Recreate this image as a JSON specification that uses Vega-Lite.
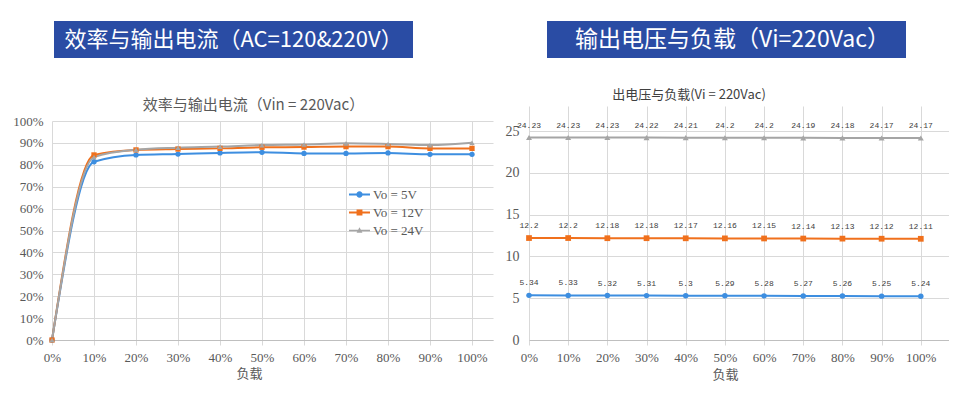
{
  "$schema": "https://vega.github.io/schema/vega-lite/v6.json",
  "background": "white",
  "padding": {"left": 12, "top": 21, "right": 0, "bottom": 0},
  "config": {
    "view": {"stroke": null},
    "font": "Noto Sans CJK SC",
    "axis": {
      "labelFont": "Liberation Serif",
      "labelFontSize": 13,
      "labelColor": "#595959",
      "labelFlush": false,
      "titleFont": "Noto Sans CJK SC",
      "titleFontSize": 13,
      "titleFontWeight": "normal",
      "titleColor": "#595959",
      "gridColor": "#d9d9d9",
      "gridWidth": 1,
      "tickColor": "#d9d9d9",
      "domainColor": "#bfbfbf"
    }
  },
  "datasets": {
    "spacer": [{"k": 1}],
    "bannerL": [{"t": "效率与输出电流（AC=120&220V）"}],
    "bannerR": [{"t": "输出电压与负载（Vi=220Vac）"}],
    "eff": [
      {"load": 0, "s": "Vo = 5V", "e": 0},
      {"load": 0.1, "s": "Vo = 5V", "e": 0.814},
      {"load": 0.2, "s": "Vo = 5V", "e": 0.845},
      {"load": 0.3, "s": "Vo = 5V", "e": 0.849},
      {"load": 0.4, "s": "Vo = 5V", "e": 0.854},
      {"load": 0.5, "s": "Vo = 5V", "e": 0.857},
      {"load": 0.6, "s": "Vo = 5V", "e": 0.852},
      {"load": 0.7, "s": "Vo = 5V", "e": 0.852},
      {"load": 0.8, "s": "Vo = 5V", "e": 0.854},
      {"load": 0.9, "s": "Vo = 5V", "e": 0.848},
      {"load": 1, "s": "Vo = 5V", "e": 0.848},
      {"load": 0, "s": "Vo = 12V", "e": 0},
      {"load": 0.1, "s": "Vo = 12V", "e": 0.845},
      {"load": 0.2, "s": "Vo = 12V", "e": 0.868},
      {"load": 0.3, "s": "Vo = 12V", "e": 0.872},
      {"load": 0.4, "s": "Vo = 12V", "e": 0.875},
      {"load": 0.5, "s": "Vo = 12V", "e": 0.88},
      {"load": 0.6, "s": "Vo = 12V", "e": 0.881},
      {"load": 0.7, "s": "Vo = 12V", "e": 0.883},
      {"load": 0.8, "s": "Vo = 12V", "e": 0.883},
      {"load": 0.9, "s": "Vo = 12V", "e": 0.875},
      {"load": 1, "s": "Vo = 12V", "e": 0.875},
      {"load": 0, "s": "Vo = 24V", "e": 0},
      {"load": 0.1, "s": "Vo = 24V", "e": 0.835},
      {"load": 0.2, "s": "Vo = 24V", "e": 0.869},
      {"load": 0.3, "s": "Vo = 24V", "e": 0.878},
      {"load": 0.4, "s": "Vo = 24V", "e": 0.883},
      {"load": 0.5, "s": "Vo = 24V", "e": 0.89},
      {"load": 0.6, "s": "Vo = 24V", "e": 0.893},
      {"load": 0.7, "s": "Vo = 24V", "e": 0.898},
      {"load": 0.8, "s": "Vo = 24V", "e": 0.895},
      {"load": 0.9, "s": "Vo = 24V", "e": 0.89},
      {"load": 1, "s": "Vo = 24V", "e": 0.901}
    ],
    "volt": [
      {"load": 0, "s": "5V", "v": 5.34},
      {"load": 0.1, "s": "5V", "v": 5.33},
      {"load": 0.2, "s": "5V", "v": 5.32},
      {"load": 0.3, "s": "5V", "v": 5.31},
      {"load": 0.4, "s": "5V", "v": 5.3},
      {"load": 0.5, "s": "5V", "v": 5.29},
      {"load": 0.6, "s": "5V", "v": 5.28},
      {"load": 0.7, "s": "5V", "v": 5.27},
      {"load": 0.8, "s": "5V", "v": 5.26},
      {"load": 0.9, "s": "5V", "v": 5.25},
      {"load": 1, "s": "5V", "v": 5.24},
      {"load": 0, "s": "12V", "v": 12.2},
      {"load": 0.1, "s": "12V", "v": 12.2},
      {"load": 0.2, "s": "12V", "v": 12.18},
      {"load": 0.3, "s": "12V", "v": 12.18},
      {"load": 0.4, "s": "12V", "v": 12.17},
      {"load": 0.5, "s": "12V", "v": 12.16},
      {"load": 0.6, "s": "12V", "v": 12.15},
      {"load": 0.7, "s": "12V", "v": 12.14},
      {"load": 0.8, "s": "12V", "v": 12.13},
      {"load": 0.9, "s": "12V", "v": 12.12},
      {"load": 1, "s": "12V", "v": 12.11},
      {"load": 0, "s": "24V", "v": 24.23},
      {"load": 0.1, "s": "24V", "v": 24.23},
      {"load": 0.2, "s": "24V", "v": 24.23},
      {"load": 0.3, "s": "24V", "v": 24.22},
      {"load": 0.4, "s": "24V", "v": 24.21},
      {"load": 0.5, "s": "24V", "v": 24.2},
      {"load": 0.6, "s": "24V", "v": 24.2},
      {"load": 0.7, "s": "24V", "v": 24.19},
      {"load": 0.8, "s": "24V", "v": 24.18},
      {"load": 0.9, "s": "24V", "v": 24.17},
      {"load": 1, "s": "24V", "v": 24.17}
    ]
  },
  "resolve": {
    "scale": {"color": "independent", "shape": "independent"},
    "legend": {"color": "independent", "shape": "independent"}
  },
  "spacing": 12,
  "hconcat": [
    {
      "spacing": 40,
      "vconcat": [
        {
          "spacing": 1,
          "hconcat": [
            {
              "width": 1,
              "height": 37,
              "data": {"name": "spacer"},
              "mark": {"type": "point", "opacity": 0, "size": 1}
            },
            {
              "width": 359,
              "height": 37,
              "view": {"fill": "#2a4ca4", "stroke": null},
              "data": {"name": "bannerL"},
              "mark": {"type": "text", "color": "white", "fontSize": 22, "font": "Noto Sans CJK SC", "align": "center", "baseline": "middle"},
              "encoding": {"text": {"field": "t", "type": "nominal"}}
            }
          ]
        },
        {
          "width": 441,
          "height": 219,
          "title": {"text": "效率与输出电流（Vin = 220Vac）", "font": "Noto Sans CJK SC", "fontSize": 15, "fontWeight": "normal", "color": "#595959", "dx": -19, "offset": 2},
          "data": {"name": "eff"},
          "encoding": {
            "x": {
              "field": "load", "type": "quantitative",
              "scale": {"domain": [0, 1.05], "nice": false, "zero": false},
              "axis": {"values": [0, 0.1, 0.2, 0.3, 0.4, 0.5, 0.6, 0.7, 0.8, 0.9, 1], "format": ".0%", "title": "负载", "titleX": 197, "titlePadding": 3, "tickSize": 5, "labelPadding": 6, "domainColor": "#bfbfbf"}
            },
            "y": {
              "field": "e", "type": "quantitative",
              "scale": {"domain": [0, 1], "nice": false},
              "axis": {"values": [0, 0.1, 0.2, 0.3, 0.4, 0.5, 0.6, 0.7, 0.8, 0.9, 1], "format": ".0%", "title": null, "domain": false, "ticks": false, "labelPadding": 9}
            },
            "color": {
              "field": "s", "type": "nominal",
              "scale": {"domain": ["Vo = 5V", "Vo = 12V", "Vo = 24V"], "range": ["#3d8ee0", "#f0701c", "#a5a5a5"]},
              "legend": {
                "title": null, "orient": "none", "legendX": 297, "legendY": 163, "padding": 0,
                "labelFont": "Liberation Serif", "labelFontSize": 13, "labelColor": "#595959",
                "rowPadding": -6.5, "labelOffset": 3, "symbolSize": 441,
                "encode": {
                  "symbols": {
                    "update": {
                      "shape": {"signal": "datum.value === 'Vo = 5V' ? 'M-1,-0.09H1V0.09H-1Z M0.3,0A0.3,0.3 0 1,1 -0.3,0A0.3,0.3 0 1,1 0.3,0Z' : datum.value === 'Vo = 12V' ? 'M-1,-0.09H1V0.09H-1Z M-0.28,-0.28H0.28V0.28H-0.28Z' : 'M-1,-0.07H1V0.07H-1Z M0,-0.3L0.28,0.22H-0.28Z'"},
                      "fill": {"signal": "datum.value === 'Vo = 5V' ? '#3d8ee0' : datum.value === 'Vo = 12V' ? '#f0701c' : '#a5a5a5'"},
                      "stroke": {"value": "transparent"},
                      "strokeWidth": {"value": 0},
                      "size": {"value": 441},
                      "opacity": {"value": 1}
                    }
                  }
                }
              }
            }
          },
          "layer": [
            {"mark": {"type": "line", "interpolate": "monotone", "strokeWidth": 2}},
            {
              "mark": {"type": "point", "filled": true, "opacity": 1, "size": 28},
              "encoding": {
                "shape": {"condition": [{"test": "datum.s === 'Vo = 5V'", "value": "circle"}, {"test": "datum.s === 'Vo = 12V'", "value": "square"}], "value": "triangle-up"}
              }
            }
          ]
        }
      ]
    },
    {
      "spacing": 31,
      "vconcat": [
        {
          "spacing": 17,
          "hconcat": [
            {
              "width": 1,
              "height": 37,
              "data": {"name": "spacer"},
              "mark": {"type": "point", "opacity": 0, "size": 1}
            },
            {
              "width": 359,
              "height": 37,
              "view": {"fill": "#2a4ca4", "stroke": null},
              "data": {"name": "bannerR"},
              "mark": {"type": "text", "color": "white", "fontSize": 23, "font": "Noto Sans CJK SC", "align": "center", "baseline": "middle", "dx": 6},
              "encoding": {"text": {"field": "t", "type": "nominal"}}
            }
          ]
        },
        {
          "width": 420,
          "height": 234,
          "title": {"text": "出电压与负载(Vi = 220Vac)", "font": "Noto Sans CJK SC", "fontSize": 13, "fontWeight": "normal", "color": "#404040", "dx": -50, "offset": 4},
          "data": {"name": "volt"},
          "encoding": {
            "x": {
              "field": "load", "type": "quantitative",
              "scale": {"domain": [0, 1.072], "nice": false, "zero": false},
              "axis": {"values": [0, 0.1, 0.2, 0.3, 0.4, 0.5, 0.6, 0.7, 0.8, 0.9, 1], "format": ".0%", "title": "负载", "titleX": 196, "titlePadding": 4, "tickSize": 5, "labelPadding": 6, "domainColor": "#bfbfbf"}
            },
            "y": {
              "field": "v", "type": "quantitative",
              "scale": {"domain": [0, 28], "nice": false},
              "axis": {"values": [0, 5, 10, 15, 20, 25], "title": null, "domain": false, "ticks": false, "labelPadding": 10, "labelFontSize": 14}
            },
            "color": {
              "field": "s", "type": "nominal",
              "scale": {"domain": ["5V", "12V", "24V"], "range": ["#3d8ee0", "#f0701c", "#a5a5a5"]},
              "legend": null
            }
          },
          "layer": [
            {"mark": {"type": "line", "strokeWidth": 2}},
            {
              "mark": {"type": "point", "filled": true, "opacity": 1},
              "encoding": {
                "shape": {"field": "s", "type": "nominal", "scale": {"domain": ["5V", "12V", "24V"], "range": ["circle", "square", "triangle-up"]}, "legend": null},
                "size": {"field": "s", "type": "nominal", "scale": {"domain": ["5V", "12V", "24V"], "range": [30, 36, 16]}, "legend": null}
              }
            },
            {
              "mark": {"type": "text", "font": "Liberation Mono", "fontSize": 8, "color": "#404040", "dy": -12, "baseline": "middle"},
              "encoding": {
                "text": {"field": "v", "type": "quantitative", "format": "~r"},
                "color": {"value": "#404040"}
              }
            }
          ]
        }
      ]
    }
  ]
}
